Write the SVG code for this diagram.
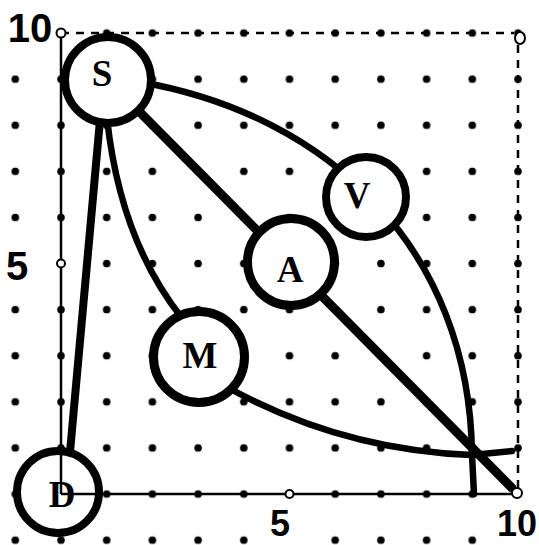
<svg xmlns="http://www.w3.org/2000/svg" width="539" height="545" viewBox="0 0 539 545">
<style>
.axis{stroke:#000;stroke-width:2.5;fill:none}
.dash{stroke:#000;stroke-width:2.5;stroke-dasharray:8 7;fill:none}
.edge{stroke:#000;fill:none;stroke-linecap:round;stroke-linejoin:round}
.node circle{fill:#fff;stroke:#000}
.lbl{font-family:"Liberation Serif",serif;font-weight:bold;font-size:37px;text-anchor:middle}
.num{font-family:"Liberation Sans",sans-serif;font-weight:bold;font-size:40px;text-anchor:middle}
.numb{font-family:"Liberation Sans",sans-serif;font-weight:bold;font-size:36px;text-anchor:middle}
.open{fill:#fff;stroke:#000;stroke-width:2}
.mask{fill:#fff}
</style>
<defs>
<pattern id="dots" x="-7.55" y="9.95" width="45.7" height="46.1" patternUnits="userSpaceOnUse">
<circle cx="22.85" cy="23.05" r="3.8" fill="#000"/>
</pattern>
</defs>
<rect width="539" height="545" fill="#fff"/>
<g id="grid">
<rect width="539" height="545" fill="url(#dots)"/>
<circle class="mask" cx="15.3" cy="33" r="6"/>
<circle class="mask" cx="15.3" cy="263.5" r="6"/>
<circle class="mask" cx="289.5" cy="540.1" r="6"/>
<circle class="mask" cx="518" cy="540.1" r="6"/>
</g>
<g id="frame">
<path class="dash" d="M61,33 L514,33"/>
<path class="dash" d="M518,45 L518,490"/>
</g>
<g id="connectors">
<path class="edge" stroke-width="9" d="M108,80 L512,488"/>
<path class="edge" stroke-width="6.5" d="M140,82 C330,115 470,250 472,455 L474,494"/>
<path class="edge" stroke-width="6.5" d="M107,118 Q120,240 182,318"/>
<path class="edge" stroke-width="6.5" d="M225,386 Q340,450 472,455 L512,451"/>
<path class="edge" stroke-width="8" d="M100,120 L70,452"/>
</g>
<g id="S" class="node"><circle cx="108" cy="80" r="43" stroke-width="8"/><text class="lbl" x="102" y="86">S</text></g>
<g id="A" class="node"><circle cx="291" cy="262" r="43.5" stroke-width="9"/><text class="lbl" x="290" y="282">A</text></g>
<g id="M" class="node"><circle cx="199" cy="357" r="45.5" stroke-width="9"/><text class="lbl" x="200" y="368">M</text></g>
<g id="V" class="node"><circle cx="366" cy="197" r="40" stroke-width="8"/><text class="lbl" x="357" y="208">V</text></g>
<g id="D" class="node"><circle cx="58" cy="492" r="41" stroke-width="8"/><text class="lbl" x="62" y="507">D</text></g>
<g id="axes">
<path class="axis" d="M61,38 L61,494"/>
<path class="axis" d="M61,494 L513,494"/>
<circle class="open" cx="61" cy="33" r="4.5"/>
<circle class="open" cx="61" cy="263.5" r="4"/>
<circle class="open" cx="289.5" cy="494" r="4"/>
<circle class="open" cx="517" cy="493" r="5"/>
<ellipse class="open" cx="520" cy="38" rx="5" ry="6"/>
</g>
<g id="labels">
<text class="num" x="30" y="42">10</text>
<text class="num" x="17" y="280">5</text>
<text class="numb" x="280" y="536">5</text>
<text class="numb" x="517" y="536">10</text>
</g>
</svg>
